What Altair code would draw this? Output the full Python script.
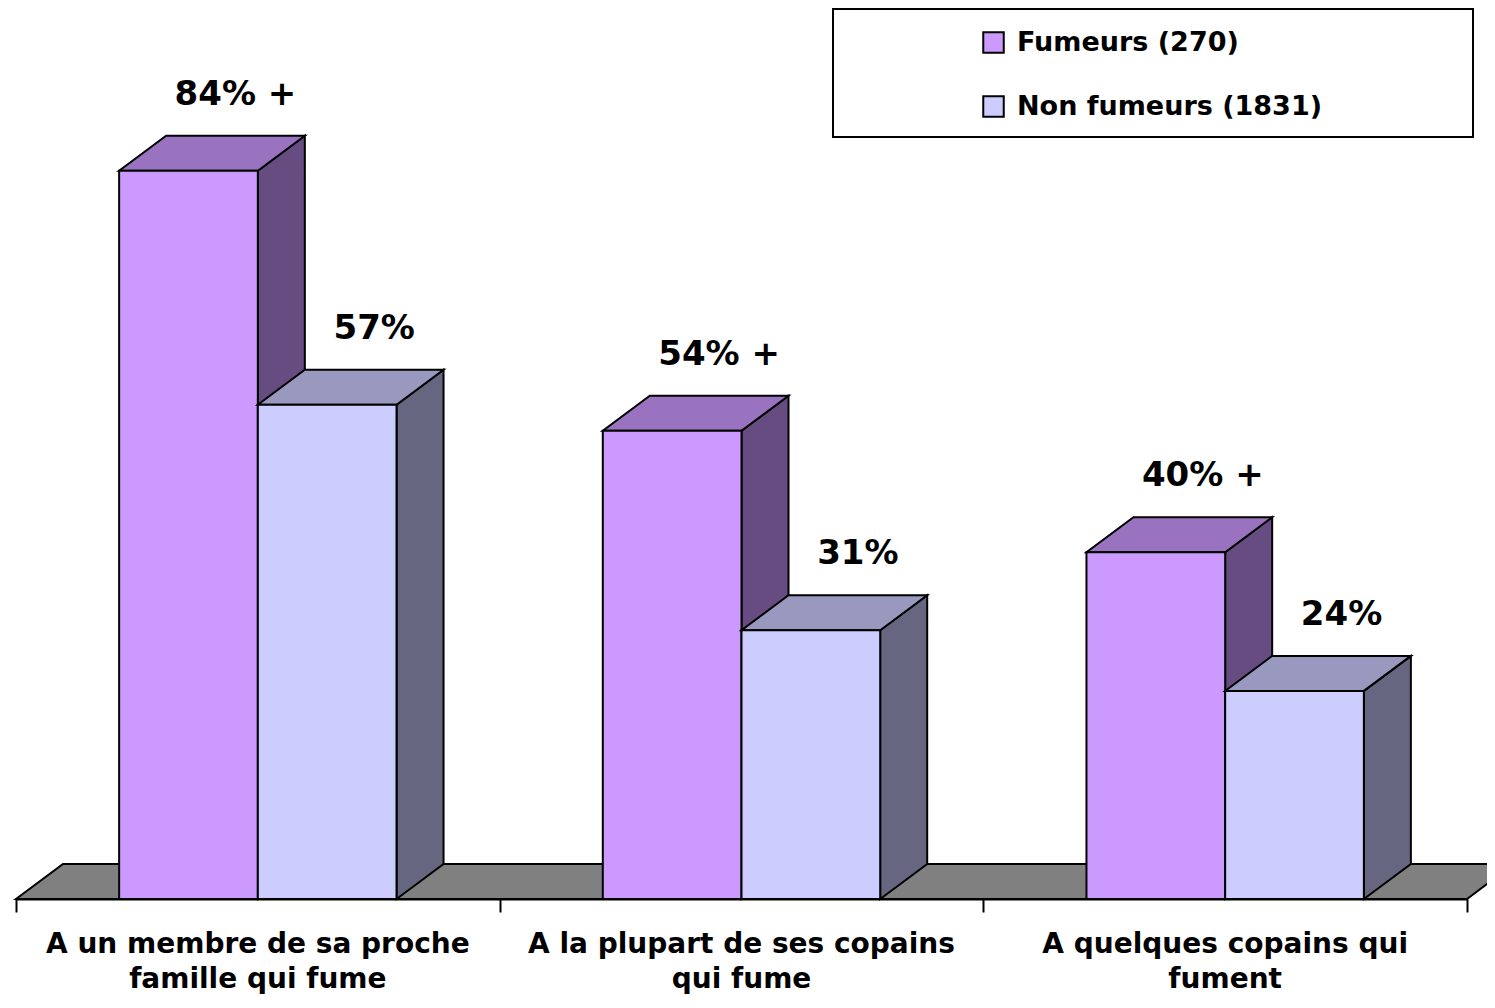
import altair as alt
import pandas as pd

# ---- data ----
categories = [
    ["A un membre de sa proche", "famille qui fume"],
    ["A la plupart de ses copains", "qui fume"],
    ["A quelques copains qui", "fument"],
]
series = ["Fumeurs (270)", "Non fumeurs (1831)"]
fumeurs = [84, 54, 40]
non_fumeurs = [57, 31, 24]
fumeurs_signif = ["+", "+", "+"]
non_fumeurs_signif = ["", "", ""]

# ---- style / geometry constants ----
FRONT = {"Fumeurs (270)": "#CC99FF", "Non fumeurs (1831)": "#CCCCFF"}
TOP = {"Fumeurs (270)": "#9A73C0", "Non fumeurs (1831)": "#9999BF"}
SIDE = {"Fumeurs (270)": "#664C80", "Non fumeurs (1831)": "#666680"}
FLOOR = "#808080"

W, H = 1451, 891
Y_MAX = 891 / 8.67
PX_X = W / 3.0
PX_Y = H / Y_MAX
DX = 47 / PX_X          # depth offset in x units
DY = 35 / PX_Y          # depth offset in y units
BW = 138.7 / PX_X       # bar width in x units

xscale = alt.Scale(domain=[0, 3], nice=False, zero=False)
yscale = alt.Scale(domain=[0, Y_MAX], nice=False, zero=False)
xaxis = alt.Axis(values=[0, 1, 2, 3], labels=False, ticks=True, tickSize=13,
                 tickWidth=2, tickColor="black", domain=True, domainColor="black",
                 domainWidth=2, grid=False, title=None)

values = {series[0]: fumeurs, series[1]: non_fumeurs}
signif = {series[0]: fumeurs_signif, series[1]: non_fumeurs_signif}

front_rows, top_rows, side_rows, label_rows = [], [], [], []
for si, s in enumerate(series):
    for i, v in enumerate(values[s]):
        x0 = i + 0.5 - BW if si == 0 else i + 0.5
        x1 = x0 + BW
        bid = f"{s}-{i}"
        front_rows.append({"series": s, "x0": x0, "x1": x1, "v": v})
        top_rows += [
            {"series": s, "bar": bid, "x": x0, "lo": v, "hi": v},
            {"series": s, "bar": bid, "x": x0 + DX, "lo": v, "hi": v + DY},
            {"series": s, "bar": bid, "x": x1, "lo": v, "hi": v + DY},
            {"series": s, "bar": bid, "x": x1 + DX, "lo": v + DY, "hi": v + DY},
        ]
        side_rows += [
            {"series": s, "bar": bid, "x": x1, "lo": 0, "hi": v},
            {"series": s, "bar": bid, "x": x1 + DX, "lo": DY, "hi": v + DY},
        ]
        txt = f"{v}%" + (f" {signif[s][i]}" if signif[s][i] else "")
        label_rows.append({"x": (x0 + x1) / 2 + DX, "y": v + DY, "t": txt})

front = pd.DataFrame(front_rows)
top = pd.DataFrame(top_rows)
side = pd.DataFrame(side_rows)
labels = pd.DataFrame(label_rows)
floor = pd.DataFrame([
    {"bar": "f", "x": 0, "lo": 0, "hi": 0},
    {"bar": "f", "x": DX, "lo": 0, "hi": DY},
    {"bar": "f", "x": 3, "lo": 0, "hi": DY},
    {"bar": "f", "x": 3 + DX, "lo": DY, "hi": DY},
])
cats = pd.DataFrame({"x": [i + 0.5 for i in range(len(categories))],
                     "y": [0] * len(categories),
                     "t": categories})


def area_layer(df, color):
    return alt.Chart(df).mark_area(fill=color, stroke="black", strokeWidth=2,
                                   strokeJoin="miter", opacity=1).encode(
        x=alt.X("x:Q", scale=xscale, axis=xaxis),
        y=alt.Y("lo:Q", scale=yscale, axis=None),
        y2="hi:Q",
        detail="bar:N",
    )


layers = [area_layer(floor, FLOOR)]
for s in series:
    layers.append(area_layer(side[side.series == s], SIDE[s]))
    layers.append(area_layer(top[top.series == s], TOP[s]))
    layers.append(
        alt.Chart(front[front.series == s]).mark_rect(stroke="black", strokeWidth=2).encode(
            x=alt.X("x0:Q", scale=xscale, axis=xaxis),
            x2="x1:Q",
            y=alt.Y("v:Q", scale=yscale, axis=None),
            y2=alt.datum(0),
            fill=alt.Fill("series:N",
                          scale=alt.Scale(domain=series, range=[FRONT[k] for k in series]),
                          legend=alt.Legend(title=None, orient="none", legendX=964, legendY=21,
                                            symbolType="square", symbolSize=420,
                                            symbolStrokeColor="black", symbolStrokeWidth=2,
                                            labelFont="DejaVu Sans", labelFontWeight="bold",
                                            labelFontSize=27, labelColor="black",
                                            labelOffset=10, rowPadding=35, padding=0,
                                            labelLimit=600)),
        )
    )

value_text = alt.Chart(labels).mark_text(
    font="DejaVu Sans", fontWeight="bold", fontSize=34, color="black",
    baseline="alphabetic", align="center", dy=-31,
).encode(
    x=alt.X("x:Q", scale=xscale, axis=xaxis),
    y=alt.Y("y:Q", scale=yscale, axis=None),
    text="t:N",
)

cat_text = alt.Chart(cats).mark_text(
    font="DejaVu Sans", fontWeight="bold", fontSize=28, color="black",
    baseline="alphabetic", align="center", dy=54, lineHeight=35,
).encode(
    x=alt.X("x:Q", scale=xscale, axis=xaxis),
    y=alt.Y("y:Q", scale=yscale, axis=None),
    text="t",
)

legend_frame = alt.Chart(pd.DataFrame({"a": [0]})).mark_rect(
    fill="white", stroke="black", strokeWidth=2
).encode(x=alt.value(817), x2=alt.value(1457), y=alt.value(1), y2=alt.value(129))

chart = alt.layer(legend_frame, *layers, value_text, cat_text).properties(
    width=W, height=H,
    autosize=alt.AutoSizeParams(type="none"),
    padding={"left": 8, "top": 0, "right": 20, "bottom": 96},
).configure_view(stroke=None).configure_axis(grid=False)

chart.save("out.html", embed_options={"renderer": "svg", "actions": False})
